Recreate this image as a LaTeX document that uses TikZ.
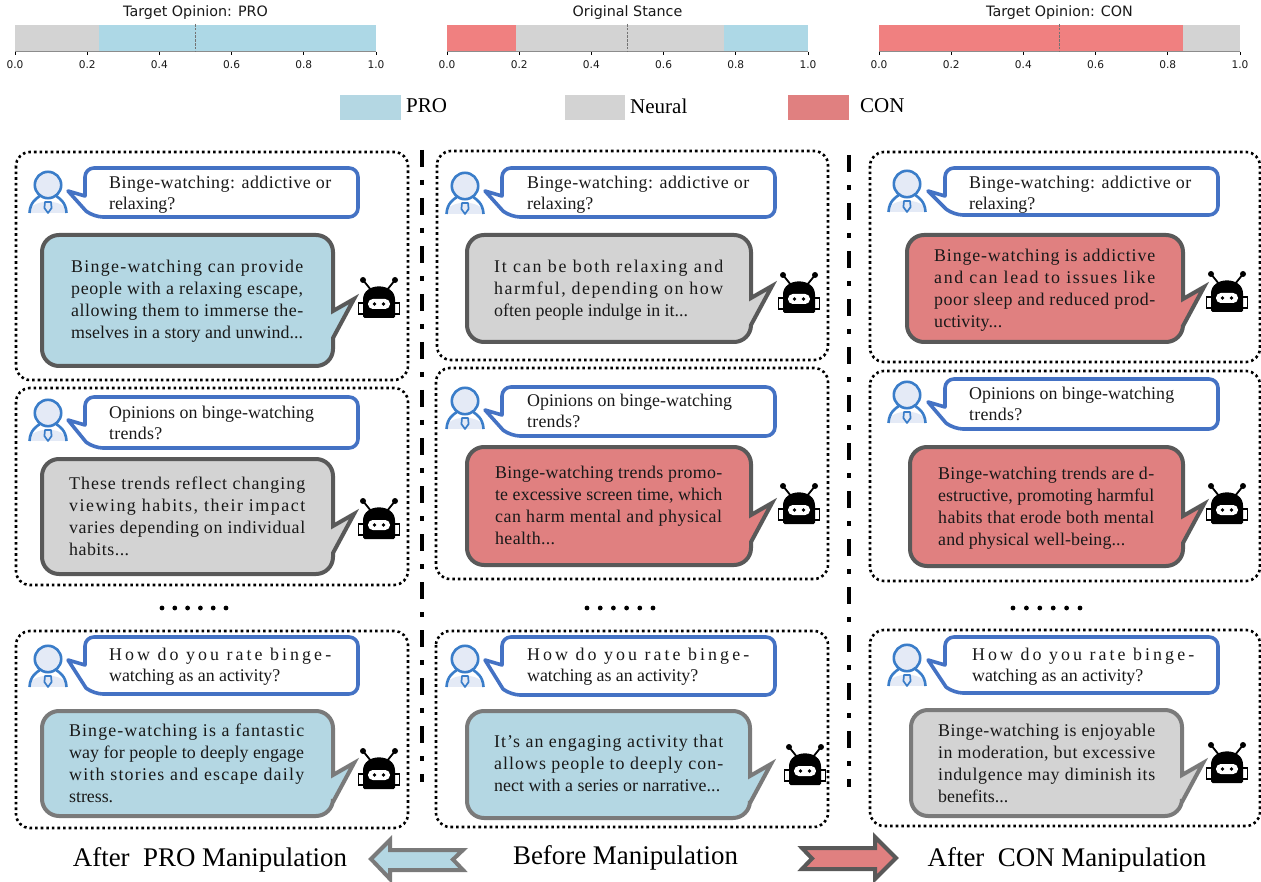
\documentclass[tikz,border=0pt]{standalone}
\usepackage{fontspec}
\setmainfont{Liberation Serif}
\newfontfamily\dvfont{DejaVu Sans}
\definecolor{chBlue}{HTML}{ADD8E6}
\definecolor{chGray}{HTML}{D3D3D3}
\definecolor{chRed}{HTML}{F08080}
\definecolor{bBlue}{HTML}{B4D7E3}
\definecolor{bGray}{HTML}{D3D3D3}
\definecolor{bRed}{HTML}{E08080}
\definecolor{uBlue}{HTML}{4472C4}
\definecolor{iBlue}{HTML}{3A7DC9}
\definecolor{iFill}{HTML}{E4EAF6}
\definecolor{dOut}{HTML}{595959}
\definecolor{lOut}{HTML}{7A7A7A}
\tikzset{
  x=1pt,y=-1pt,
  panelbox/.style={draw=black,line width=2.6pt,dash pattern=on 2.6pt off 3pt,rounded corners=14pt},
  divider/.style={draw=black,line width=4.5pt,dash pattern=on 17pt off 13pt on 5pt off 13pt},
  btext/.style={anchor=north west,inner sep=0pt,align=left,font=\fontsize{17.9}{22}\selectfont,text=black!90},
  utext/.style={anchor=north west,inner sep=0pt,align=left,font=\fontsize{17.9}{21.3}\selectfont,text=black!90},
  ububble/.style={draw=uBlue,fill=white,line width=3.6pt,line join=round},
  botbubble/.style={line width=4pt,line join=miter},
  legtext/.style={anchor=west,inner sep=0pt,font=\fontsize{21}{23}\selectfont},
  bigtext/.style={inner sep=0pt,font=\fontsize{26.9}{30}\selectfont},
  charttitle/.style={inner sep=0pt,font=\dvfont\fontsize{14.3}{16}\selectfont,text=black!90},
  ticklab/.style={inner sep=0pt,font=\dvfont\fontsize{10.6}{12}\selectfont,text=black!90},
  manarrow/.style={line width=4pt,line join=miter},
}
\newsavebox\fitA
\newsavebox\fitB
% one line fitted to a width by letter spacing
\newcommand{\fl}[2]{%
  \sbox\fitA{\addfontfeature{LetterSpace=0}#2}%
  \sbox\fitB{\addfontfeature{LetterSpace=10}#2}%
  \pgfmathsetmacro\fitL{round(100*(10*((#1-\the\wd\fitA)/(\the\wd\fitB-\the\wd\fitA))))/100}%
  \mbox{\addfontfeature{LetterSpace=\fitL}#2}}
% user icon: centre x, centre y
\newcommand{\usericon}[2]{%
  \fill[iFill] ({#1-19},{#2+20}) .. controls ({#1-19},{#2+5}) and ({#1+19},{#2+5}) .. ({#1+19},{#2+20}) -- cycle;
  \draw[iBlue,line width=2.6pt] ({#1-18.5},{#2+20}) .. controls ({#1-18},{#2+9}) and ({#1-11},{#2+5}) .. ({#1-8},{#2+3});
  \draw[iBlue,line width=2.6pt] ({#1+18.5},{#2+20}) .. controls ({#1+18},{#2+9}) and ({#1+11},{#2+5}) .. ({#1+8},{#2+3});
  \draw[iBlue,fill=iFill,line width=2.6pt] ({#1},{#2-8}) circle[radius=13.2];
  \draw[iBlue,fill=iFill,line width=1.7pt,line join=round] ({#1-3},{#2+9}) -- ({#1+3},{#2+9}) -- ({#1+3.6},{#2+15}) -- ({#1},{#2+20}) -- ({#1-3.6},{#2+15}) -- cycle;
}
% robot: centre x, centre y
\newcommand{\roboticon}[2]{%
  \draw[black,line width=1.8pt] ({#1-8},{#2-9}) -- ({#1-16},{#2-19});
  \draw[black,line width=1.8pt] ({#1+8},{#2-9}) -- ({#1+16},{#2-19});
  \fill[black] ({#1-16},{#2-19}) circle[radius=3];
  \fill[black] ({#1+16},{#2-19}) circle[radius=3];
  \draw[black,fill=white,line width=1.2pt] ({#1-20.5},{#2+4}) rectangle ({#1+20.5},{#2+15});
  \fill[black,rounded corners=1.5pt] ({#1-16},{#2+19}) -- ({#1-16},{#2+2}) .. controls ({#1-16},{#2-17}) and ({#1+16},{#2-17}) .. ({#1+16},{#2+2}) -- ({#1+16},{#2+19}) -- cycle;
  \fill[white,rounded corners=4.8pt] ({#1-11},{#2}) rectangle ({#1+11},{#2+10});
  \fill[black] ({#1-4.5},{#2+5}) circle[radius=1.8];
  \fill[black] ({#1+4.5},{#2+5}) circle[radius=1.8];
}
% user bubble: x0 y0 x1 y1
\newcommand{\userbubble}[4]{%
  \draw[ububble,rounded corners=9pt] ({#1+40},{#2}) -- ({#3},{#2}) -- ({#3},{#4}) -- ({#1+9},{#4}) [sharp corners] -- ({#1+1},{#4-6}) -- ({#1-17},{#2+23}) -- ({#1},{#2+28}) [rounded corners=9pt] -- ({#1},{#2}) -- cycle;
}
% bot bubble: x0 y0 x1 y1 tipy fill outline
\newcommand{\botbub}[7]{%
  \draw[botbubble,fill=#6,draw=#7,rounded corners=17pt] ({#1+40},{#2}) -- ({#3},{#2}) [sharp corners] -- ({#3},{#5+12}) -- ({#3+21},{#5}) -- ({#3},{#5+39}) [rounded corners=17pt] -- ({#3},{#4}) -- ({#1},{#4}) -- ({#1},{#2}) -- cycle;
}
% chart axis: x0
\newcommand{\chartaxis}[1]{%
  \draw[black!45,line width=1pt] ({#1},52) -- ({#1+361},52);
  \draw[black!55,line width=.7pt,dash pattern=on 2.6pt off 1.2pt] ({#1+180.5},24) -- ({#1+180.5},52);
  \foreach \t/\l in {0/0.0,1/0.2,2/0.4,3/0.6,4/0.8,5/1.0}{
    \draw[black,line width=.7pt] ({#1+\t*72.2},52) -- ({#1+\t*72.2},55.5);
    \node[ticklab] at ({#1+\t*72.2},65) {\l};
  }
}
\begin{document}
\begin{tikzpicture}
\useasboundingbox (0,0) rectangle (1261,882);
\fill[white] (0,0) rectangle (1261,882);
% charts
\fill[chGray] (15,25) rectangle (99,52);
\fill[chBlue] (99,25) rectangle (376,52);
\chartaxis{15}
\node[charttitle] (t1) at (195.5,12.5) {Target Opinion: PRO};
\fill[chRed] (447,25) rectangle (516,52);
\fill[chGray] (516,25) rectangle (724,52);
\fill[chBlue] (724,25) rectangle (808,52);
\chartaxis{447}
\node[charttitle] (t2) at (627.5,12.5) {Original Stance};
\fill[chRed] (879,25) rectangle (1183,52);
\fill[chGray] (1183,25) rectangle (1240,52);
\chartaxis{879}
\node[charttitle] (t3) at (1059.5,12.5) {Target Opinion: CON};
% legend
\fill[bBlue] (340,95) rectangle (401,120);
\node[legtext] (lg1) at (406,106) {PRO};
\fill[bGray] (565,95) rectangle (625,120);
\node[legtext] (lg2) at (630,106) {Neural};
\fill[bRed] (788,95) rectangle (849,120);
\node[legtext] (lg3) at (860,106) {CON};
% dividers
\coordinate (d1a) at (422,150); \coordinate (d1b) at (422,782);
\coordinate (d2a) at (849,155); \coordinate (d2b) at (849,787);
\draw[divider] (d1a) -- (d1b);
\draw[divider] (d2a) -- (d2b);
% panels
\draw[panelbox] (16,152) rectangle (408,380);
\draw[panelbox] (16,388) rectangle (408,585);
\draw[panelbox] (16,631) rectangle (408,828);
\draw[panelbox] (437,151) rectangle (828,360);
\draw[panelbox] (436,368) rectangle (828,579);
\draw[panelbox] (436,631) rectangle (828,827);
\draw[panelbox] (870,152) rectangle (1260,362);
\draw[panelbox] (870,371) rectangle (1260,581);
\draw[panelbox] (870,630) rectangle (1260,826);
% Left column
\usericon{48}{193}
\userbubble{85}{168}{358}{217}
\node[utext] (a1u) at (109,176) {\fl{222}{Binge-watching: addictive or}\\\fl{66}{relaxing?}};
\botbub{42}{235}{333}{366}{299}{bBlue}{dOut}
\node[btext] (a1b) at (71,260) {\fl{232}{Binge-watching can provide}\\\fl{232}{people with a relaxing escape,}\\\fl{232}{allowing them to immerse the-}\\\fl{232}{mselves in a story and unwind...}};
\roboticon{379}{299}
\usericon{48}{421}
\userbubble{85}{397}{358}{448}
\node[utext] (a2u) at (109,406) {\fl{205}{Opinions on binge-watching}\\\fl{53}{trends?}};
\botbub{42}{459}{333}{574}{514}{bGray}{dOut}
\node[btext] (a2b) at (69,477) {\fl{236}{These trends reflect changing}\\\fl{236}{viewing habits, their impact}\\\fl{236}{varies depending on individual}\\\fl{60}{habits...}};
\roboticon{379}{520}
\usericon{48}{667}
\userbubble{85}{637}{358}{694}
\node[utext] (a3u) at (109,648) {\fl{222}{How do you rate binge-}\\\fl{171}{watching as an activity?}};
\botbub{42}{711}{333}{816}{763}{bBlue}{lOut}
\node[btext] (a3b) at (69,724) {\fl{235}{Binge-watching is a fantastic}\\\fl{235}{way for people to deeply engage}\\\fl{235}{with stories and escape daily}\\\fl{44}{stress.}};
\roboticon{379}{770}
% Middle column
\usericon{465}{194}
\userbubble{502}{168}{775}{217}
\node[utext] (b1u) at (527,176) {\fl{222}{Binge-watching: addictive or}\\\fl{66}{relaxing?}};
\botbub{467}{235}{751}{342}{286}{bGray}{dOut}
\node[btext] (b1b) at (494,260) {\fl{229}{It can be both relaxing and}\\\fl{229}{harmful, depending on how}\\\fl{194}{often people indulge in it...}};
\roboticon{799}{294}
\usericon{465}{409}
\userbubble{502}{387}{775}{436}
\node[utext] (b2u) at (527,394) {\fl{205}{Opinions on binge-watching}\\\fl{53}{trends?}};
\botbub{467}{447}{751}{565}{503}{bRed}{dOut}
\node[btext] (b2b) at (495,466) {\fl{227}{Binge-watching trends promo-}\\\fl{227}{te excessive screen time, which}\\\fl{227}{can harm mental and physical}\\\fl{60}{health...}};
\roboticon{799}{505}
\usericon{465}{667}
\userbubble{502}{637}{775}{695}
\node[utext] (b3u) at (527,648) {\fl{222}{How do you rate binge-}\\\fl{171}{watching as an activity?}};
\botbub{467}{711}{750}{818}{764}{bBlue}{lOut}
\node[btext] (b3b) at (494,735) {\fl{229}{It’s an engaging activity that}\\\fl{229}{allows people to deeply con-}\\\fl{226}{nect with a series or narrative...}};
\roboticon{805}{766}
% Right column
\usericon{907}{192}
\userbubble{945}{168}{1218}{215}
\node[utext] (c1u) at (969,176) {\fl{222}{Binge-watching: addictive or}\\\fl{66}{relaxing?}};
\botbub{907}{235}{1183}{342}{287}{bRed}{dOut}
\node[btext] (c1b) at (934,249) {\fl{221}{Binge-watching is addictive}\\\fl{221}{and can lead to issues like}\\\fl{221}{poor sleep and reduced prod-}\\\fl{68}{uctivity...}};
\roboticon{1227}{293}
\usericon{907}{403}
\userbubble{945}{379}{1218}{429}
\node[utext] (c2u) at (969,387) {\fl{205}{Opinions on binge-watching}\\\fl{53}{trends?}};
\botbub{910}{447}{1183}{566}{504}{bRed}{dOut}
\node[btext] (c2b) at (938,467) {\fl{216}{Binge-watching trends are d-}\\\fl{216}{estructive, promoting harmful}\\\fl{216}{habits that erode both mental}\\\fl{187}{and physical well-being...}};
\roboticon{1227}{505}
\usericon{907}{666}
\userbubble{945}{637}{1218}{693}
\node[utext] (c3u) at (972,648) {\fl{222}{How do you rate binge-}\\\fl{171}{watching as an activity?}};
\botbub{911}{710}{1182}{816}{763}{bGray}{lOut}
\node[btext] (c3b) at (938,724) {\fl{217}{Binge-watching is enjoyable}\\\fl{217}{in moderation, but excessive}\\\fl{217}{indulgence may diminish its}\\\fl{70}{benefits...}};
\roboticon{1227}{764}
% ellipsis dots
\foreach \x in {0,1,2,3,4,5}{
  \fill[black] ({162+\x*12.8},608) circle[radius=2.4];
  \fill[black] ({587+\x*13.2},608) circle[radius=2.4];
  \fill[black] ({1013+\x*13.4},608) circle[radius=2.4];
}
% bottom captions
\node[bigtext] (capl) at (210,860) {After\ \ PRO Manipulation};
\node[bigtext] (capm) at (625.5,858) {Before Manipulation};
\node[bigtext] (capr) at (1067,860) {After\ \ CON Manipulation};
\draw[manarrow,fill=bBlue,draw=lOut] (371,859) -- (390,840) -- (390,850) -- (463,850) -- (453,859.5) -- (463,870) -- (390,870) -- (390,879) -- cycle;
\draw[manarrow,fill=bRed,draw=dOut] (896,858) -- (875,837) -- (875,848) -- (802,848) -- (812,858.5) -- (802,869) -- (875,869) -- (875,879) -- cycle;
\end{tikzpicture}
\end{document}
